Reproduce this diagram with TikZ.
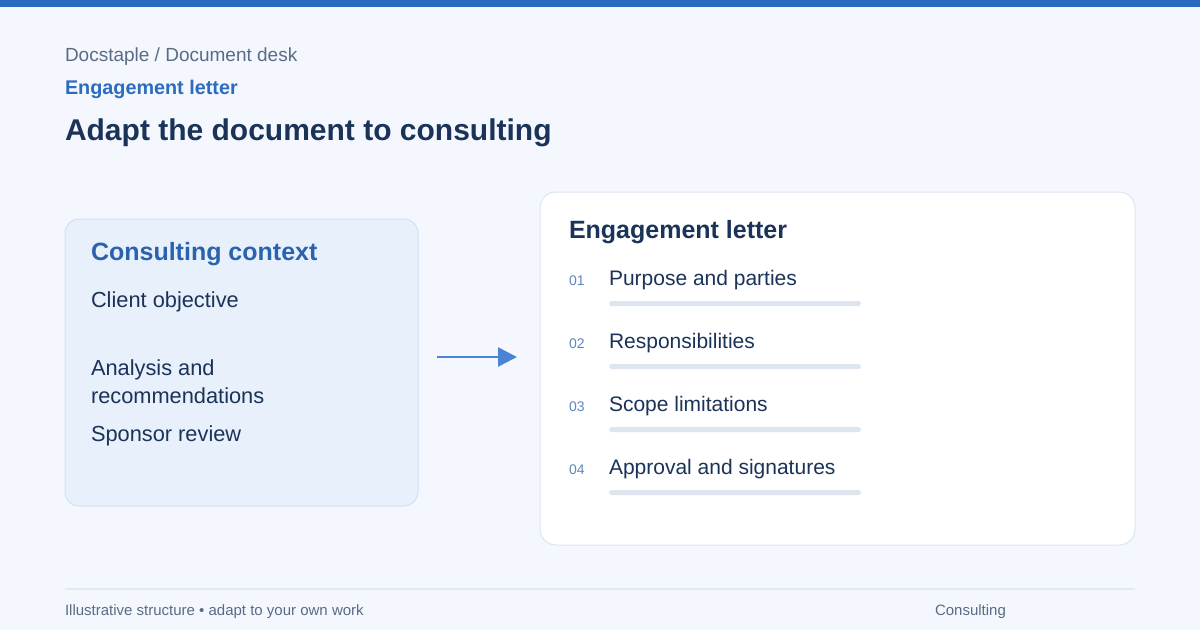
\documentclass[tikz,border=0pt]{standalone}
\usepackage{fontspec}
\setmainfont{Liberation Sans}
\usetikzlibrary{arrows.meta}
\definecolor{bg}{HTML}{F4F8FE}
\definecolor{topbar}{HTML}{2B6AC0}
\definecolor{crumb}{HTML}{5A6B85}
\definecolor{accent}{HTML}{2C6BC0}
\definecolor{navy}{HTML}{1B3358}
\definecolor{ctxfill}{HTML}{E8F0FC}
\definecolor{ctxline}{HTML}{D3E0F3}
\definecolor{ctxhead}{HTML}{2A62AD}
\definecolor{cardline}{HTML}{DCE5F0}
\definecolor{barcol}{HTML}{DDE5EF}
\definecolor{numcol}{HTML}{5F86C0}
\definecolor{arrowcol}{HTML}{4A84D4}
\definecolor{footline}{HTML}{E3E9F1}
\tikzset{
  txt/.style={anchor=base west, inner sep=0pt, outer sep=0pt},
  itemtxt/.style={txt, font=\fontsize{21}{24}\selectfont, text=navy},
  ctxtxt/.style={txt, font=\fontsize{21.8}{24}\selectfont, text=navy},
  numtxt/.style={txt, font=\fontsize{14}{16}\selectfont, text=numcol},
  foottxt/.style={txt, font=\fontsize{15}{17}\selectfont, text=crumb},
  bar/.style={fill=barcol, rounded corners=2.5pt},
}
\begin{document}
\begin{tikzpicture}[x=1pt,y=-1pt]
\useasboundingbox (0,0) rectangle (1200,630);
\fill[bg] (0,0) rectangle (1200,630);
\fill[topbar] (0,0) rectangle (1200,7);
% header
\node[txt, font=\fontsize{19}{21}\selectfont, text=crumb] (crumb) at (65,61) {Docstaple / Document desk};
\node[txt, font=\fontsize{19.8}{21}\selectfont\bfseries, text=accent] (kind) at (65,94) {Engagement letter};
\node[txt, font=\fontsize{30}{33}\selectfont\bfseries, text=navy] (title) at (65,140) {Adapt the document to consulting};
% left box
\draw[fill=ctxfill, draw=ctxline, line width=1pt, rounded corners=14pt] (65,219) rectangle (418,506);
\node[txt, font=\fontsize{25}{28}\selectfont\bfseries, text=ctxhead] (ctx) at (91,260) {Consulting context};
\node[ctxtxt] (c1) at (91,307) {Client objective};
\node[ctxtxt] (c2) at (91,375) {Analysis and};
\node[ctxtxt] (c2b) at (91,403) {recommendations};
\node[ctxtxt] (c3) at (91,441) {Sponsor review};
% arrow
\coordinate (a1) at (437,357);
\coordinate (a2) at (517,357);
\draw[arrowcol, line width=2.6pt, -{Triangle[length=19pt,width=19pt]}] (a1) -- (a2);
% right card
\draw[fill=white, draw=cardline, line width=1pt, rounded corners=16pt] (540,192) rectangle (1135,545);
\node[txt, font=\fontsize{25}{28}\selectfont\bfseries, text=navy] (card) at (569,238) {Engagement letter};
\foreach \n/\t/\y in {01/Purpose and parties/285, 02/Responsibilities/348, 03/Scope limitations/411, 04/Approval and signatures/474}{
  \node[numtxt] (n\n) at (569,\y) {\n};
  \node[itemtxt] (i\n) at (609,\y) {\t};
  \fill[bar] (609,\y+16) rectangle (861,\y+21);
}
% footer
\draw[footline, line width=2pt] (65,589) -- (1135,589);
\node[foottxt] (foot) at (65,615) {Illustrative structure • adapt to your own work};
\node[foottxt] (footr) at (935,615) {Consulting};
\end{tikzpicture}
\end{document}
